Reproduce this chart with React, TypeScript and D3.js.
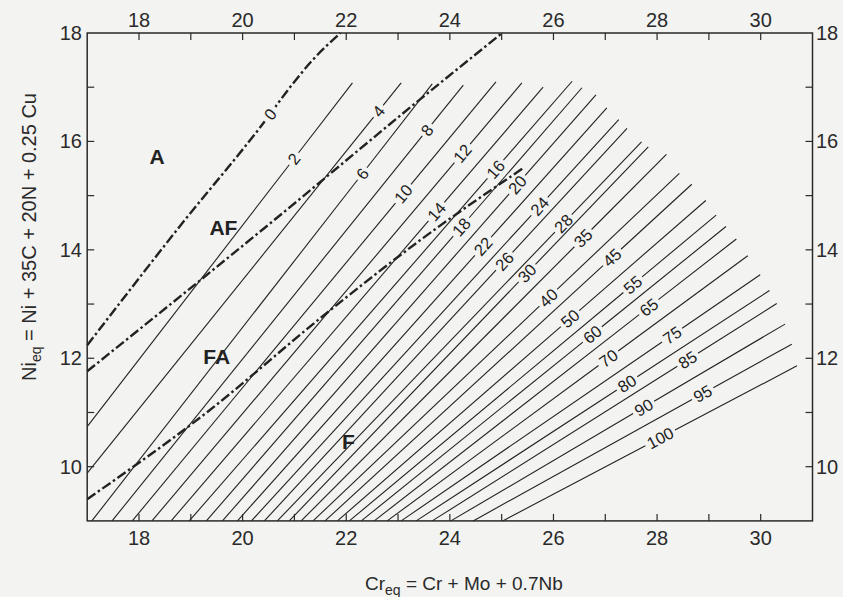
import React from 'react'
import * as d3 from 'd3'

// iso-ferrite lines (FN), each from its lower start to its upper end
const ferriteNumbers = [2, 4, 6, 8, 10, 12, 14, 16, 18, 20, 22, 24, 26, 28, 30, 35, 40, 45, 50, 55, 60, 65, 70, 75, 80, 85, 90, 95, 100]
const startCr = [17, 17, 17.09, 17.48, 17.87, 18.25, 18.62, 18.97, 19.3, 19.61, 19.9, 20.17, 20.42, 20.67, 20.9, 21.13, 21.36, 21.59, 21.83, 22.06, 22.29, 22.54, 22.79, 23.06, 23.35, 23.66, 24.02, 24.45, 25.02]
const startNi = [10.74, 9.88, 9, 9, 9, 9, 9, 9, 9, 9, 9, 9, 9, 9, 9, 9, 9, 9, 9, 9, 9, 9, 9, 9, 9, 9, 9, 9, 9]
const endCr = [22.12, 23.06, 23.66, 24.26, 24.89, 25.39, 25.8, 26.36, 26.55, 26.82, 27.03, 27.26, 27.42, 27.7, 27.83, 28.18, 28.43, 28.67, 28.94, 29.14, 29.33, 29.53, 29.75, 29.99, 30.17, 30.31, 30.47, 30.6, 30.7]
const endNi = [17.08, 17.08, 17.06, 17.04, 17.1, 17.08, 17.0, 17.11, 16.99, 16.86, 16.62, 16.4, 16.24, 15.99, 15.9, 15.76, 15.41, 15.21, 14.91, 14.64, 14.43, 14.2, 13.89, 13.54, 13.25, 13.01, 12.63, 12.26, 11.86]
const labelCr = [20.99, 22.62, 22.31, 23.56, 23.1, 24.24, 23.74, 24.88, 24.22, 25.3, 24.64, 25.73, 25.05, 26.19, 25.49, 26.57, 25.9, 27.13, 26.32, 27.53, 26.75, 27.84, 27.06, 28.29, 27.42, 28.59, 27.74, 28.88, 28.06]

// phase boundaries (dash-dot)
const aAfCr = [17.0, 18.8, 20.45, 20.9, 21.35, 21.89]
const aAfNi = [12.24, 14.45, 16.4, 16.98, 17.5, 18.0]
const afFaCr = [17.0, 20.61, 23.43, 25.01]
const afFaNi = [11.76, 14.55, 16.78, 18.0]
const faFCr = [17.0, 19.32, 21.5, 23.43, 25.42]
const faFNi = [9.4, 11.01, 12.74, 14.18, 15.51]
const zeroLabelCr = 20.53

const regionNames = ['A', 'AF', 'FA', 'F']
const regionCr = [18.35, 19.63, 19.5, 22.04]
const regionNi = [15.72, 14.42, 12.03, 10.46]

const crTickLabels = [18, 20, 22, 24, 26, 28, 30]
const niTickLabels = [10, 12, 14, 16, 18]

export default function App() {
  const W = 843, H = 597
  const x = d3.scaleLinear().domain([17, 31]).range([87.2, 812.5])
  const y = d3.scaleLinear().domain([9, 18]).range([520.9, 33])
  const bg = '#f3f3f1'
  const ink = '#222'
  const font = "'Liberation Sans', Arial, Helvetica, sans-serif"
  const fnSize = 16.5
  const tick = 7

  const isoLines = ferriteNumbers.map((fn, i) => {
    const x0 = x(startCr[i]), y0 = y(startNi[i]), x1 = x(endCr[i]), y1 = y(endNi[i])
    const t = (x(labelCr[i]) - x0) / (x1 - x0)
    const lx = x0 + t * (x1 - x0), ly = y0 + t * (y1 - y0)
    const len = Math.hypot(x1 - x0, y1 - y0)
    const ux = (x1 - x0) / len, uy = (y1 - y0) / len
    const half = String(fn).length * 0.556 * fnSize / 2 + 3
    const angle = Math.atan2(y1 - y0, x1 - x0) * 180 / Math.PI
    return { fn, x0, y0, x1, y1, lx, ly, ux, uy, half, angle }
  })

  const line = d3.line<[number, number]>()
    .x(d => x(d[0]))
    .y(d => y(d[1]))
    .curve(d3.curveMonotoneX)
  const aAf = aAfCr.map((c, i) => [c, aAfNi[i]] as [number, number])
  const afFa = afFaCr.map((c, i) => [c, afFaNi[i]] as [number, number])
  const faF = faFCr.map((c, i) => [c, faFNi[i]] as [number, number])

  // position of the "0" label on the A/AF boundary
  const k = Math.min(d3.bisectRight(aAfCr, zeroLabelCr) - 1, aAfCr.length - 2)
  const f = (zeroLabelCr - aAfCr[k]) / (aAfCr[k + 1] - aAfCr[k])
  const zNi = aAfNi[k] + f * (aAfNi[k + 1] - aAfNi[k])
  const zx = x(zeroLabelCr), zy = y(zNi)
  const zAngle = Math.atan2(y(aAfNi[k + 1]) - y(aAfNi[k - 1]), x(aAfCr[k + 1]) - x(aAfCr[k - 1])) * 180 / Math.PI

  const [xl, xr] = x.range()
  const [yb, yt] = y.range()

  return (
    <svg width={W} height={H} style={{ position: 'fixed', left: 0, top: 0 }} fontFamily={font}>
      <rect x={0} y={0} width={W} height={H} fill={bg} />

      {/* iso-ferrite lines */}
      <g stroke={ink} strokeWidth={1.1} fill="none">
        {isoLines.map(d => (
          <g key={d.fn}>
            <line x1={d.x0} y1={d.y0} x2={d.lx - d.ux * d.half} y2={d.ly - d.uy * d.half} />
            <line x1={d.lx + d.ux * d.half} y1={d.ly + d.uy * d.half} x2={d.x1} y2={d.y1} />
          </g>
        ))}
      </g>
      <g fill={ink} fontSize={fnSize}>
        {isoLines.map(d => (
          <text key={d.fn} transform={`translate(${d.lx},${d.ly}) rotate(${d.angle})`}
            textAnchor="middle" dominantBaseline="central">{d.fn}</text>
        ))}
      </g>

      {/* phase boundaries */}
      <g stroke={ink} strokeWidth={2.4} fill="none" strokeDasharray="10 3 2.5 3">
        <path d={line(aAf) || ''} />
        <path d={line(afFa) || ''} />
        <path d={line(faF) || ''} />
      </g>
      <g transform={`translate(${zx},${zy}) rotate(${zAngle})`}>
        <rect x={-9} y={-8} width={18} height={16} fill={bg} />
        <text fill={ink} fontSize={fnSize} textAnchor="middle" dominantBaseline="central">0</text>
      </g>

      {/* region names */}
      <g fill={ink} fontSize={21} fontWeight="bold">
        {regionNames.map((n, i) => (
          <text key={n} x={x(regionCr[i])} y={y(regionNi[i])} textAnchor="middle" dominantBaseline="central">{n}</text>
        ))}
      </g>

      {/* frame and ticks */}
      <rect x={xl} y={yt} width={xr - xl} height={yb - yt} fill="none" stroke="#2a2a2a" strokeWidth={1.5} />
      <g stroke="#2a2a2a" strokeWidth={1.2}>
        {d3.range(18, 31).map(v => (
          <g key={'x' + v}>
            <line x1={x(v)} x2={x(v)} y1={yt} y2={yt + tick} />
            <line x1={x(v)} x2={x(v)} y1={yb} y2={yb - tick} />
          </g>
        ))}
        {d3.range(10, 18).map(v => (
          <g key={'y' + v}>
            <line x1={xl} x2={xl + tick} y1={y(v)} y2={y(v)} />
            <line x1={xr} x2={xr - tick} y1={y(v)} y2={y(v)} />
          </g>
        ))}
      </g>
      <g fill="#2a2a2a" fontSize={20}>
        {crTickLabels.map(v => (
          <g key={'cx' + v}>
            <text x={x(v)} y={27} textAnchor="middle">{v}</text>
            <text x={x(v)} y={545} textAnchor="middle">{v}</text>
          </g>
        ))}
        {niTickLabels.map(v => (
          <g key={'ny' + v}>
            <text x={82} y={y(v)} textAnchor="end" dominantBaseline="central">{v}</text>
            <text x={816} y={y(v)} textAnchor="start" dominantBaseline="central">{v}</text>
          </g>
        ))}
      </g>

      {/* axis titles */}
      <text x={365} y={590} fill="#2a2a2a" fontSize={19}>
        Cr<tspan fontSize={14} dy={5}>eq</tspan><tspan dy={-5}> = Cr + Mo + 0.7Nb</tspan>
      </text>
      <text transform="translate(36,237) rotate(-90)" fill="#2a2a2a" fontSize={20} textAnchor="middle">
        Ni<tspan fontSize={14} dy={5}>eq</tspan><tspan dy={-5}> = Ni + 35C + 20N + 0.25 Cu</tspan>
      </text>
    </svg>
  )
}
